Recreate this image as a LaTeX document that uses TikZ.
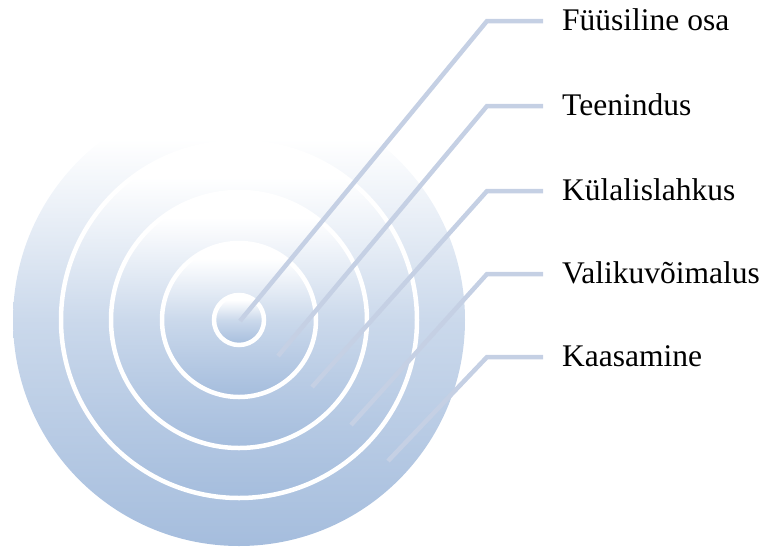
\documentclass[tikz,border=0pt]{standalone}
\usepackage{fontspec}
\setmainfont{Liberation Serif}
\definecolor{discblue}{RGB}{165,189,221}
\definecolor{leadcol}{RGB}{197,208,228}
% vertical fill: blue at the bottom, fading to white over the top part
\pgfdeclareverticalshading{discfade}{100bp}{%
  color(0bp)=(discblue); color(25bp)=(discblue);
  color(50bp)=(discblue!58); color(70bp)=(white); color(100bp)=(white)}
\tikzset{
  disc/.style={shading=discfade},
  ringline/.style={draw=white, line width=4.5pt},
  leader/.style={draw=leadcol, line width=4.5pt},
  lbl/.style={anchor=west, inner xsep=19pt, inner ysep=0pt,
              text height=18pt, text depth=0pt,
              font=\fontsize{31.5}{36}\selectfont}
}
\begin{document}
\begin{tikzpicture}[x=1pt, y=-1pt]
  \useasboundingbox (0,0) rectangle (766,547);
  \coordinate (c) at (239,320);

  % concentric discs, each with its own top-to-bottom gradient
  \shade[disc] (c) circle (226);
  \shade[disc, ringline] (c) circle (178);
  \shade[disc, ringline] (c) circle (128);
  \shade[disc, ringline] (c) circle (77);
  \shade[disc, ringline] (c) circle (25);

  % labels
  \node[lbl] (l1) at (543,21)  {Füüsiline osa};
  \node[lbl] (l2) at (543,106) {Teenindus};
  \node[lbl] (l3) at (543,191) {Külalislahkus};
  \node[lbl] (l4) at (543,274) {Valikuvõimalus};
  \node[lbl] (l5) at (543,357) {Kaasamine};

  % leader start points and elbows
  \coordinate (s1) at (240,321);
  \coordinate (s2) at (278,356);
  \coordinate (s3) at (312,387);
  \coordinate (s4) at (351,425);
  \coordinate (s5) at (388,461);
  \coordinate (e1) at (487,21);
  \coordinate (e2) at (487,106);
  \coordinate (e3) at (487,191);
  \coordinate (e4) at (487,274);
  \coordinate (e5) at (487,357);

  \foreach \i in {1,...,5}
    \draw[leader] (s\i) -- (e\i) -- (l\i.west);
\end{tikzpicture}
\end{document}
